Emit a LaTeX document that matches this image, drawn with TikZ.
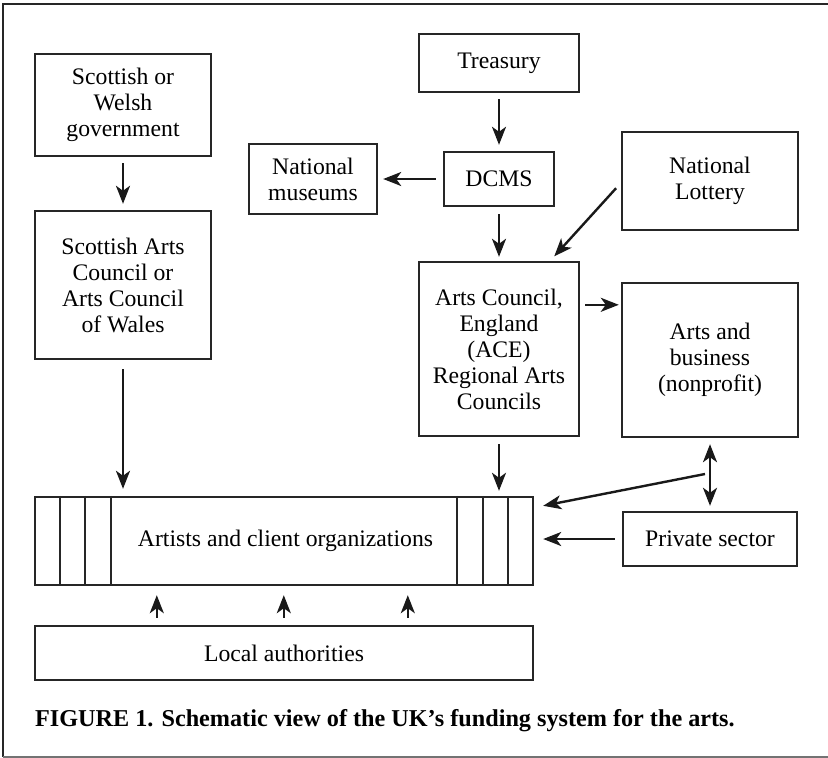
\documentclass[tikz,border=0pt]{standalone}
\usepackage{fontspec}
\setmainfont{Liberation Serif}
\usetikzlibrary{arrows.meta,calc}
\begin{document}
\begin{tikzpicture}[x=1pt,y=-1pt,
  box/.style={draw=black!85, line width=2.4pt, rectangle, align=center, inner sep=0pt,
    font=\fontsize{23.7}{26}\selectfont},
  conn/.style={line width=2.4pt, draw=black!90, -{Stealth[length=18pt,width=14pt,inset=5pt]}},
  dconn/.style={line width=2.4pt, draw=black!90, {Stealth[length=18pt,width=14pt,inset=5pt]}-{Stealth[length=18pt,width=14pt,inset=5pt]}},
  frameline/.style={line width=2.6pt, draw=black!85},
  stripe/.style={line width=2.4pt, draw=black!85}
]
\useasboundingbox (0,0) rectangle (828,758);
% frame
\draw[frameline] (3,757) -- (3,4) -- (828,4);
\draw[line width=2pt, draw=black!55] (3,757) -- (828,757);

% boxes
\node[box, minimum width=176pt, minimum height=102pt] (sgov) at (123,105) {Scottish or\\Welsh\\government};
\node[box, minimum width=176pt, minimum height=148pt] (sac) at (123,285) {Scottish Arts\\Council or\\Arts Council\\of Wales};
\node[box, minimum width=128pt, minimum height=70pt] (nm) at (313,179) {National\\museums};
\node[box, minimum width=160pt, minimum height=58pt] (tre) at (499,63) {Treasury};
\node[box, minimum width=110pt, minimum height=54pt] (dcms) at (499,179) {DCMS};
\node[box, minimum width=176pt, minimum height=98pt] (nl) at (710,181) {National\\Lottery};
\node[box, minimum width=160pt, minimum height=174pt] (ace) at (499,349) {Arts Council,\\England\\(ACE)\\Regional Arts\\Councils};
\node[box, minimum width=176pt, minimum height=154pt] (ab) at (710,360) {Arts and\\business\\(nonprofit)};
\node[box, minimum width=498pt, minimum height=88pt] (art) at (284,541) {\hspace*{3pt}Artists and client organizations};
\node[box, minimum width=174pt, minimum height=54pt] (ps) at (710,539) {Private sector};
\node[box, minimum width=498pt, minimum height=54pt] (la) at (284,653) {Local authorities};

% stripes in artists box
\foreach \dx in {26,51,77} {
  \draw[stripe] ([xshift=\dx pt]art.north west) -- ([xshift=\dx pt]art.south west);
  \draw[stripe] ([xshift=-\dx pt]art.north east) -- ([xshift=-\dx pt]art.south east);
}

% connectors
\draw[conn, shorten <=6pt, shorten >=6pt] (sgov.south) -- (sac.north);
\draw[conn, shorten <=6pt, shorten >=6pt] (tre.south) -- (dcms.north);
\draw[conn, shorten <=7pt, shorten >=4pt] (dcms.south) -- (dcms.south |- ace.north);
\draw[conn, shorten <=7pt, shorten >=5pt] (dcms.west) -- (dcms.west -| nm.east);
\draw[conn, shorten <=7pt, shorten >=6pt] ([yshift=-2pt]nl.west) -- ([xshift=-30pt]ace.north east);
\draw[conn, shorten <=5pt, shorten >=2pt] ([yshift=-44pt]ace.north east) -- ([yshift=-44pt]ace.north east -| ab.west);
\draw[conn, shorten <=9pt, shorten >=7pt] (sac.south) -- (sac.south |- art.north);
\draw[conn, shorten <=7pt, shorten >=5pt] (ace.south) -- (ace.south |- art.north);
\draw[dconn, shorten <=6pt, shorten >=5pt] (ab.south) -- (ps.north);
\coordinate (dsplit) at (705,474);
\draw[conn] (dsplit) -- ([xshift=9pt,yshift=-10pt]art.north east);
\draw[conn, shorten <=7pt, shorten >=9pt] (ps.west) -- (ps.west -| art.east);
\foreach \dx in {123,250,374} {
  \draw[conn, shorten <=7pt, shorten >=9pt] ([xshift=\dx pt]la.north west) -- ([xshift=\dx pt]art.south west);
}

% caption
\node[anchor=base west, inner sep=0pt, font=\fontsize{24.2}{26}\selectfont\bfseries] (cap) at (35,726.7) {FIGURE 1. Schematic view of the UK’s funding system for the arts.};
\end{tikzpicture}
\end{document}
